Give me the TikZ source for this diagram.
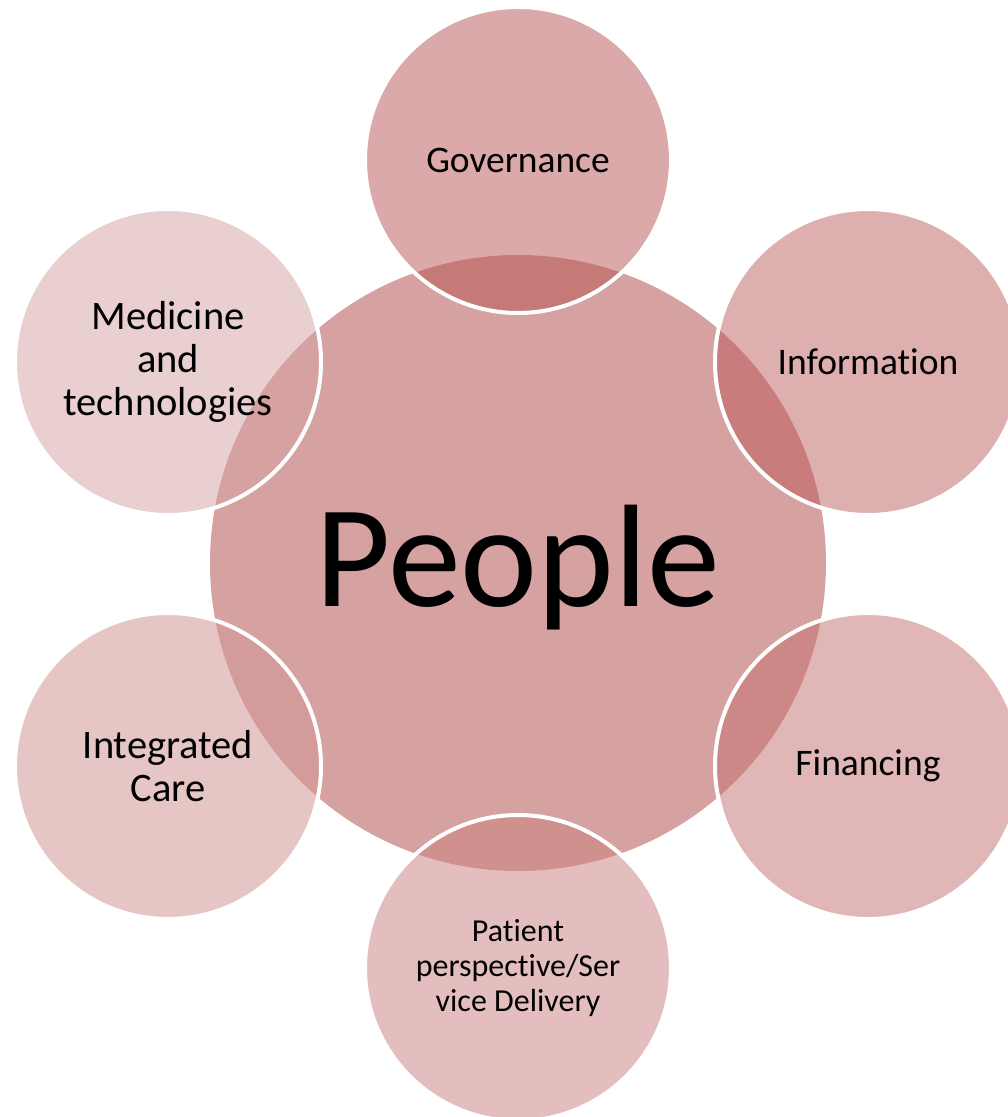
\documentclass[tikz,border=0pt]{standalone}
\usepackage{fontspec}
\setmainfont[Ligatures={NoCommon}]{Carlito}
\usetikzlibrary{backgrounds}

\definecolor{hubfill}{HTML}{D5A1A1}
\definecolor{govfill}{HTML}{DBA9A9}
\definecolor{govlap}{HTML}{C67A78}
\definecolor{infofill}{HTML}{DEAFAF}
\definecolor{infolap}{HTML}{C87D7C}
\definecolor{finfill}{HTML}{E1B6B6}
\definecolor{finlap}{HTML}{CC8886}
\definecolor{patfill}{HTML}{E4BEBE}
\definecolor{patlap}{HTML}{CF908E}
\definecolor{carefill}{HTML}{E6C5C5}
\definecolor{carelap}{HTML}{D39C9B}
\definecolor{medfill}{HTML}{E9CFCF}
\definecolor{medlap}{HTML}{D5A1A1}

\begin{document}
\begin{tikzpicture}[x=1pt,y=-1pt,
		hub node/.style={circle,minimum size=616pt,inner sep=0pt,
			font=\fontsize{146}{168}\selectfont},
		spoke node/.style={circle,minimum size=306pt,inner sep=0pt,align=center,
			font=\fontsize{37.5}{43}\selectfont},
		big node/.style={spoke node,font=\fontsize{40.5}{43}\selectfont},
		small node/.style={spoke node,font=\fontsize{32}{35}\selectfont},
		rim/.style={draw=white,line width=4pt}]
		
		\useasboundingbox (0,0) rectangle (1008,1117);
		
		\node[hub node] (people) at (518,568) {People};
		\node[spoke node] (gov) at (518,160) {Governance};
		\node[spoke node] (info) at (868,362) {Information};
		\node[spoke node] (fin) at (868,766) {Financing};
		\node[small node] (pat) at (518,968) {Patient\\perspective/Ser\\vice Delivery};
		\node[big node] (care) at (168,766) {Integrated\\Care};
		\node[big node] (med) at (168,362) {Medicine\\and\\technologies};
		
		\begin{pgfonlayer}{background}
			\fill[hubfill] (518,563) circle (308);
			\fill[govfill] (gov.center) circle (153);
			\fill[infofill] (info.center) circle (153);
			\fill[finfill] (fin.center) circle (153);
			\fill[patfill] (pat.center) circle (153);
			\fill[carefill] (care.center) circle (153);
			\fill[medfill] (med.center) circle (153);
			
			% overlaps with the hub
			\begin{scope}
				\clip (518,563) circle (308);
				\fill[govlap] (gov.center) circle (153);
				\fill[infolap] (info.center) circle (153);
				\fill[finlap] (fin.center) circle (153);
				\fill[patlap] (pat.center) circle (153);
				\fill[carelap] (care.center) circle (153);
				\fill[medlap] (med.center) circle (153);
			\end{scope}
			
			\foreach \n in {gov,info,fin,pat,care,med}
				\draw[rim] (\n.center) circle (153);
		\end{pgfonlayer}
		
\end{tikzpicture}
\end{document}
